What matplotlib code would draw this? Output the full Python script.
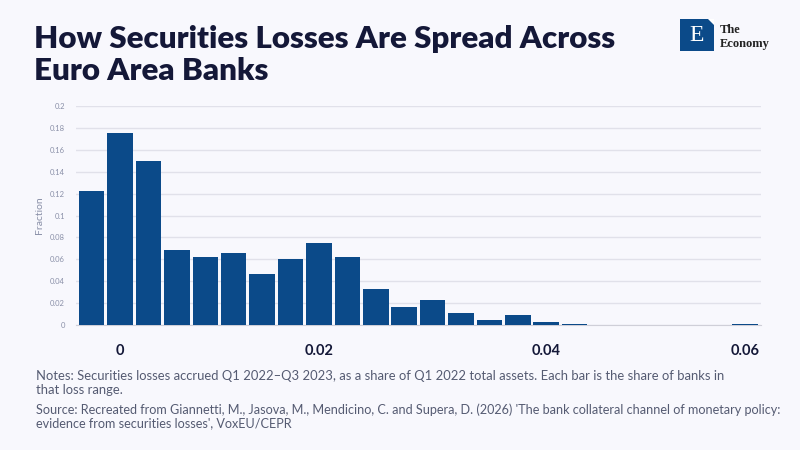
import matplotlib.pyplot as plt
from matplotlib.patches import Rectangle, Polygon
import numpy as np

# share of banks in each loss bin (24 bins)
fractions = [0.122, 0.175, 0.150, 0.0685, 0.062, 0.066, 0.047, 0.0605,
             0.0745, 0.062, 0.033, 0.0165, 0.0228, 0.011, 0.0046, 0.0091,
             0.0027, 0.0009, 0, 0, 0, 0, 0, 0.0009]
tick_pos = [1, 8, 16, 23]
tick_labels = ['0', '0.02', '0.04', '0.06']
y_ticks = [0, 0.02, 0.04, 0.06, 0.08, 0.1, 0.12, 0.14, 0.16, 0.18, 0.2]

bg = '#f8f8fd'
bar_color = '#0b4a89'
navy = '#141838'
grey_txt = '#555b72'

plt.rcParams['font.family'] = ['Lato', 'DejaVu Sans']

fig = plt.figure(figsize=(8, 4.5), dpi=100, facecolor=bg)
ax = fig.add_axes([0.095, 0.2778, 0.856, 0.4866], facecolor=bg)

x = np.arange(len(fractions))
ax.bar(x, fractions, 0.9, color=bar_color, zorder=3)

ax.set_xlim(-0.55, len(fractions) - 0.45)
ax.set_ylim(0, 0.2)
ax.set_yticks(y_ticks)
ax.set_yticklabels(['0' if v == 0 else ('%g' % v) for v in y_ticks])
ax.set_xticks(tick_pos)
ax.set_xticklabels(tick_labels, fontweight='bold', fontsize=10.5, color=navy)
ax.tick_params(axis='x', length=0, pad=14)
ax.tick_params(axis='y', length=0, labelsize=5.5, labelcolor='#8a90a8', pad=8)
ax.grid(axis='y', color='#e1e1ea', linewidth=1, zorder=0)
for s in ['top', 'right', 'left']:
    ax.spines[s].set_visible(False)
ax.spines['bottom'].set_color('#cfcfd8')
ax.set_ylabel('Fraction', fontsize=7.5, color='#8a90a8', labelpad=4)

# title
fig.text(0.043, 0.945, 'How Securities Losses Are Spread Across\nEuro Area Banks',
         fontsize=22.5, fontweight='heavy', color=navy, va='top', linespacing=1.2)

# notes / source
fig.text(0.045, 0.177, 'Notes: Securities losses accrued Q1 2022\u2013Q3 2023, as a share of Q1 2022 total assets. '
         'Each bar is the share of banks in\nthat loss range.',
         fontsize=9.4, color=grey_txt, va='top', linespacing=1.15)
fig.text(0.045, 0.103, "Source: Recreated from Giannetti, M., Jasova, M., Mendicino, C. and Supera, D. (2026) "
         "'The bank collateral channel of monetary policy:\nevidence from securities losses', VoxEU/CEPR",
         fontsize=9.1, color=grey_txt, va='top', linespacing=1.1)

# logo
sq = Rectangle((0.85, 0.886), 0.0425, 0.0711, transform=fig.transFigure,
               facecolor='#0b4a89', edgecolor='none')
fig.patches.append(sq)
tri = Polygon([[0.8855, 0.957], [0.8925, 0.957], [0.8925, 0.945]], closed=True,
              transform=fig.transFigure, facecolor='white', edgecolor='none')
fig.patches.append(tri)
fig.text(0.8712, 0.921, 'E', fontsize=17, family='Liberation Serif', color='white',
         ha='center', va='center')
fig.text(0.9, 0.933, 'The', fontsize=9, family='Liberation Serif', fontweight='bold',
         color='#222222', va='center')
fig.text(0.9, 0.903, 'Economy', fontsize=9, family='Liberation Serif', fontweight='bold',
         color='#222222', va='center')

fig.savefig('out.png', dpi=100, facecolor=bg)
